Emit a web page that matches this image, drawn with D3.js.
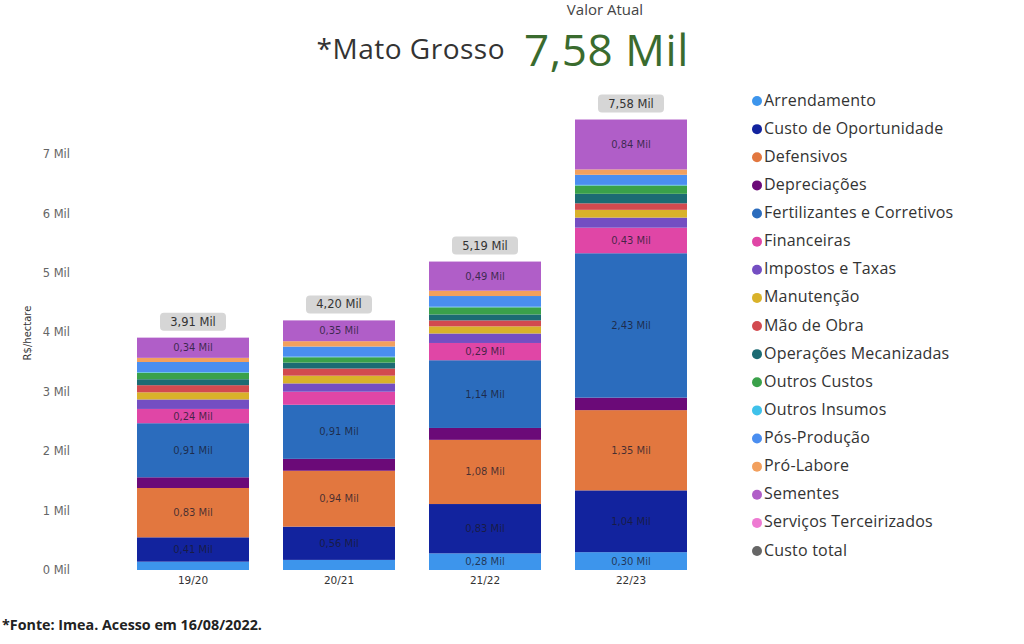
<!DOCTYPE html>
<html><head><meta charset="utf-8">
<script src="https://cdn.jsdelivr.net/npm/d3@7"></script>
<style>
html,body{margin:0;padding:0;background:#fff;}
svg{display:block;}
</style></head>
<body>
<svg id="c" width="1024" height="644"></svg>
<script>
const categories = ["19/20","20/21","21/22","22/23"];
const seriesNames = ["Arrendamento","Custo de Oportunidade","Defensivos","Depreciações","Fertilizantes e Corretivos","Financeiras","Impostos e Taxas","Manutenção","Mão de Obra","Operações Mecanizadas","Outros Custos","Outros Insumos","Pós-Produção","Pró-Labore","Sementes","Serviços Terceirizados"];
const arrendamento = [0.14,0.17,0.28,0.30];
const custoOportunidade = [0.41,0.56,0.83,1.04];
const defensivos = [0.83,0.94,1.08,1.35];
const depreciacoes = [0.18,0.20,0.20,0.21];
const fertilizantes = [0.91,0.91,1.14,2.43];
const financeiras = [0.24,0.22,0.29,0.43];
const impostos = [0.16,0.14,0.16,0.17];
const manutencao = [0.12,0.13,0.12,0.13];
const maoDeObra = [0.12,0.12,0.10,0.11];
const operacoes = [0.10,0.10,0.10,0.16];
const outrosCustos = [0.11,0.09,0.12,0.14];
const outrosInsumos = [0.01,0.01,0.01,0.01];
const posProducao = [0.17,0.17,0.18,0.17];
const proLabore = [0.07,0.09,0.09,0.09];
const sementes = [0.34,0.35,0.49,0.84];
const servicos = [0,0,0,0];
const yTicks = [0,1,2,3,4,5,6,7];
const legendNames = seriesNames.concat(["Custo total"]);
const colors = ["#3d95ec","#12239e","#e2773f","#6b0a78","#2b6cbd","#e046a6","#744ec2","#d9b22a","#d24a4f","#1c6b73","#3aa14a","#3fc1ea","#4a8ef0","#f2a05e","#b05ec8","#ee7ad2","#666666"];
const allValues = [arrendamento,custoOportunidade,defensivos,depreciacoes,fertilizantes,financeiras,impostos,manutencao,maoDeObra,operacoes,outrosCustos,outrosInsumos,posProducao,proLabore,sementes,servicos];

const rows = categories.map((c,i)=>{const r={cat:c}; seriesNames.forEach((s,j)=>r[s]=allValues[j][i]); return r;});
const totals = categories.map((c,i)=>d3.sum(allValues,a=>a[i]));

const svg = d3.select("#c");
const font = "'Open Sans', 'DejaVu Sans', sans-serif";
const vfont = "'DejaVu Sans', sans-serif";
const fmt = v => d3.format(".2f")(v).replace(".",",") + " Mil";

const x = d3.scaleBand().domain(categories).range([120,704]).paddingInner(0.233).paddingOuter(0.1165);
const y = d3.scaleLinear().domain([0,8]).range([570,570-8*59.43]);
const color = d3.scaleOrdinal().domain(legendNames).range(colors);

const stack = d3.stack().keys(seriesNames)(rows);

const g = svg.append("g");
const layers = g.selectAll("g.layer").data(stack).join("g").attr("fill",d=>color(d.key));
layers.selectAll("rect").data(d=>d).join("rect")
  .attr("x",d=>x(d.data.cat)).attr("width",x.bandwidth())
  .attr("y",d=>y(d[1])).attr("height",d=>Math.max(0,y(d[0])-y(d[1])));

// segment labels
stack.forEach(layer=>{
  layer.forEach(d=>{
    const h = y(d[0])-y(d[1]);
    if(h>=14){
      g.append("text").attr("x",x(d.data.cat)+x.bandwidth()/2).attr("y",(y(d[0])+y(d[1]))/2)
        .attr("dy","0.35em").attr("text-anchor","middle")
        .attr("font-family",vfont).attr("font-size",10).attr("fill","#1a1a2e").attr("fill-opacity",0.78)
        .text(fmt(d[1]-d[0]));
    }
  });
});

// total labels
categories.forEach((c,i)=>{
  const cx = x(c)+x.bandwidth()/2, top = y(totals[i]);
  g.append("rect").attr("x",cx-33).attr("y",top-25).attr("width",66).attr("height",18).attr("rx",4)
    .attr("fill","#d6d6d6");
  g.append("text").attr("x",cx).attr("y",top-16).attr("dy","0.35em").attr("text-anchor","middle")
    .attr("font-family",vfont).attr("font-size",11.5).attr("fill","#333").text(fmt(totals[i]));
});

// y axis
const yAxis = d3.axisLeft(y).tickValues(yTicks).tickSize(0).tickFormat(d=>d+" Mil");
const ya = svg.append("g").attr("transform","translate(70,0)").call(yAxis);
ya.select(".domain").remove();
ya.selectAll("text").attr("font-family",vfont).attr("font-size",11.5).attr("fill","#666").attr("x",0);

svg.append("text").attr("transform","translate(31,333) rotate(-90)").attr("text-anchor","middle")
  .attr("font-family",vfont).attr("font-size",10).attr("fill","#333").text("R$/hectare");

// x axis
const xAxis = d3.axisBottom(x).tickSize(0);
const xa = svg.append("g").attr("transform","translate(0,574)").call(xAxis);
xa.select(".domain").remove();
xa.selectAll("text").attr("font-family",vfont).attr("font-size",10.5).attr("fill","#333");

// legend
const lg = svg.append("g");
legendNames.forEach((n,i)=>{
  const yy = 100 + i*28.125;
  lg.append("circle").attr("cx",757).attr("cy",yy+1).attr("r",5).attr("fill",color(n));
  lg.append("text").attr("x",764).attr("y",yy).attr("dy","0.35em").attr("font-family",font)
    .attr("font-size",16).attr("letter-spacing",0.2).attr("fill","#333").text(n);
});

// title
svg.append("text").attr("x",605).attr("y",15).attr("text-anchor","middle").attr("font-family",font)
  .attr("font-size",15).attr("fill","#444").text("Valor Atual");
svg.append("text").attr("x",505).attr("y",59).attr("text-anchor","end").attr("font-family",font)
  .attr("font-size",28).attr("letter-spacing",0.5).attr("fill","#333").text("*Mato Grosso");
svg.append("text").attr("x",524).attr("y",66).attr("font-family",font)
  .attr("font-size",44).attr("letter-spacing",0.6).attr("fill","#3a6b2e").text(fmt(totals[3]));

svg.append("text").attr("x",2).attr("y",630).attr("font-family",font).attr("font-weight","bold")
  .attr("font-size",14.3).attr("fill","#222").text("*Fonte: Imea. Acesso em 16/08/2022.");
</script>
</body></html>
